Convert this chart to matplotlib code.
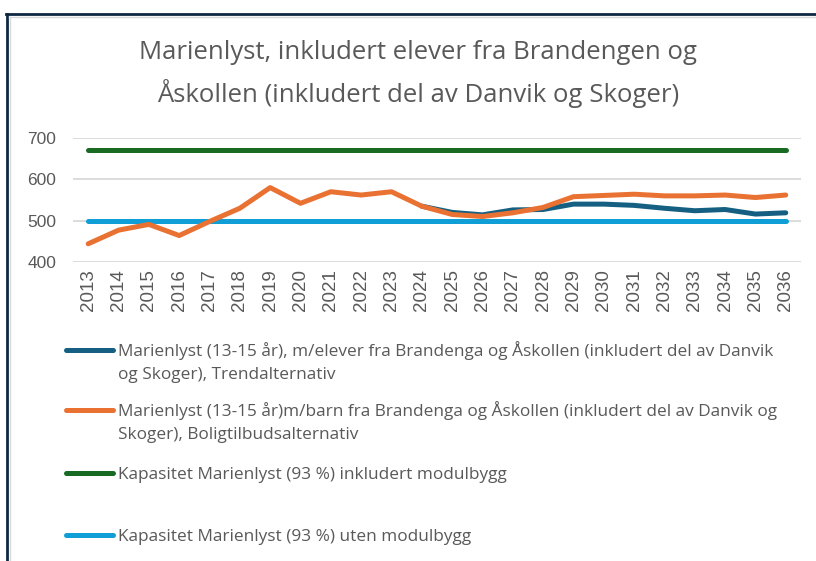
import matplotlib
matplotlib.use("Agg")
import matplotlib.pyplot as plt
import numpy as np
from matplotlib.lines import Line2D

# data (trend line only visible from 2024)
years = [str(y) for y in range(2013, 2037)]
trend = [np.nan] * 11 + [535, 520, 514, 526, 527, 540, 540, 537, 530, 524, 527, 516, 519]
bolig = [444, 477, 491, 464, 498, 530, 580, 542, 570, 562, 570, 535,
         515, 510, 519, 532, 558, 561, 564, 560, 560, 562, 556, 562]
kap_med = [670] * len(years)
kap_uten = [500] * len(years)

labels = [
    ["Marienlyst (13-15 år), m/elever fra Brandenga og Åskollen (inkludert del av Danvik",
     "og Skoger), Trendalternativ"],
    ["Marienlyst (13-15 år)m/barn fra Brandenga og Åskollen (inkludert del av Danvik og",
     "Skoger), Boligtilbudsalternativ"],
    ["Kapasitet Marienlyst (93 %) inkludert modulbygg"],
    ["Kapasitet Marienlyst (93 %) uten modulbygg"],
]
colors = ["#156082", "#E97132", "#196B24", "#0F9ED5"]
title = "Marienlyst, inkludert elever fra Brandengen og\nÅskollen (inkludert del av Danvik og Skoger)"
grey = "#595959"

plt.rcParams["font.family"] = ["Open Sans", "DejaVu Sans"]

fig = plt.figure(figsize=(8.16, 5.61), dpi=100)
ax = fig.add_axes([0.0895, 0.533, 0.892, 0.221])

series = [trend, bolig, kap_med, kap_uten]
lines = []
for vals, c, lab in zip(series, colors, labels):
    ln, = ax.plot(years, vals, color=c, lw=3.6, solid_capstyle="round",
                  solid_joinstyle="round", label=lab[0])
    lines.append(ln)
lines[1].set_zorder(3)

ax.set_ylim(400, 700)
ax.set_yticks([400, 500, 600, 700])
ax.set_xlim(-0.5, len(years) - 0.5)
ax.grid(axis="y", color="#D9D9D9", lw=1.3)
ax.set_axisbelow(True)
for s in ax.spines.values():
    s.set_visible(False)
ax.tick_params(length=0, colors=grey)
ax.tick_params(axis="x", rotation=90, pad=5, labelsize=13.5)
ax.tick_params(axis="y", pad=12, labelsize=12.5)
for t in ax.get_xticklabels() + ax.get_yticklabels():
    t.set_family("Liberation Sans")

fig.text(0.512, 0.868, title, ha="center", va="center", fontsize=18.5,
         color=grey, linespacing=1.62)

# legend entries, one per row; handle sits on the first line of the label
ypos = [351, 411, 475, 537]
for ln, lab, y in zip(lines, labels, ypos):
    fig.legend(handles=[ln], labels=[lab[0]], loc="center left",
               bbox_to_anchor=(66 / 816, 1 - y / 561), frameon=False,
               fontsize=12.4, labelcolor=grey, handlelength=2.7,
               handletextpad=0.3, borderpad=0, borderaxespad=0)
    for k, extra in enumerate(lab[1:]):
        fig.text(118 / 816, 1 - (y + 24 * (k + 1)) / 561, extra, fontsize=12.4,
                 color=grey, ha="left", va="center")

# border of the chart area
fig.add_artist(Line2D([6 / 816, 1], [1 - 14 / 561] * 2, color="#0E2841", lw=2))
fig.add_artist(Line2D([7 / 816] * 2, [0, 1 - 14 / 561], color="#0E2841", lw=2))
fig.add_artist(Line2D([9 / 816, 1], [1 - 16.5 / 561] * 2, color="#D9D9D9", lw=1))
fig.add_artist(Line2D([9.5 / 816] * 2, [0, 1 - 16.5 / 561], color="#D9D9D9", lw=1))

fig.savefig("out.png", dpi=100)
